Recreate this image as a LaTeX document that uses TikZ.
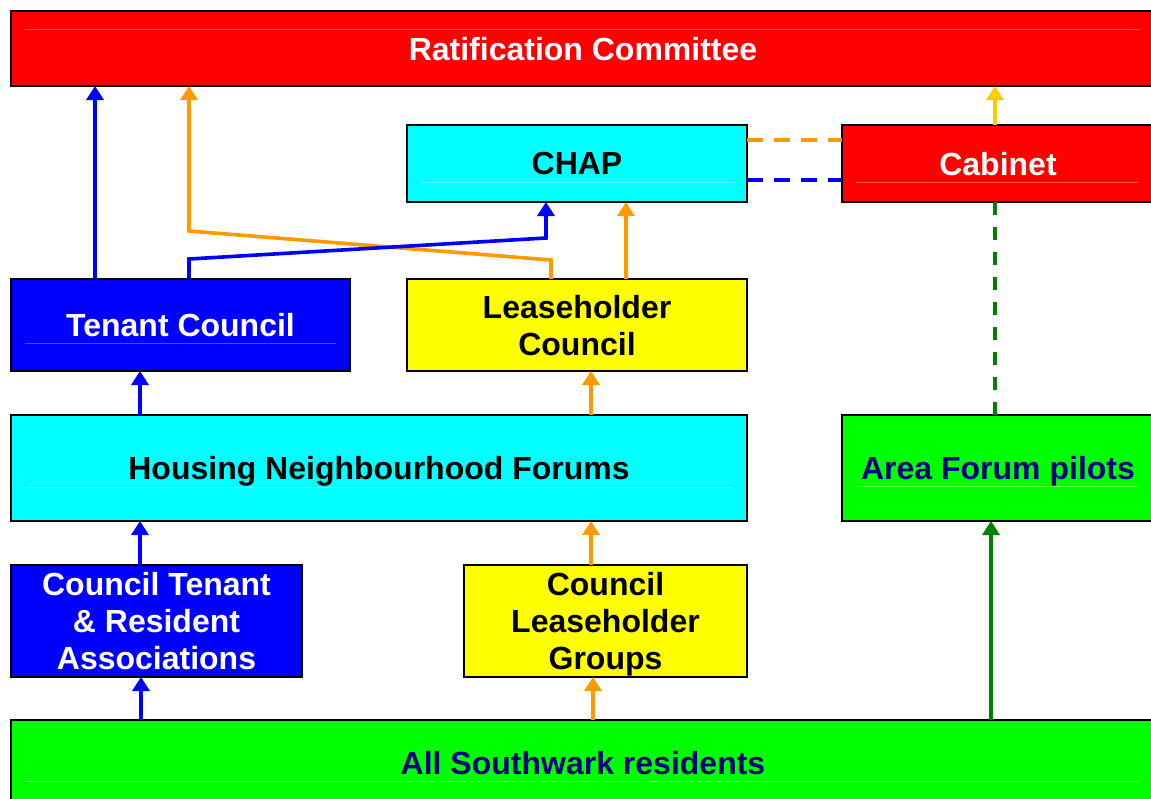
\documentclass[tikz,border=0pt]{standalone}
\usepackage{fontspec}
\setmainfont{Liberation Sans}
\usetikzlibrary{arrows.meta,calc}
\definecolor{cOrange}{HTML}{FF9900}
\definecolor{cGold}{HTML}{FFCC00}
\definecolor{cDkGreen}{HTML}{008000}
\definecolor{cNavy}{HTML}{000080}
\definecolor{cBlue}{HTML}{0000FF}
\definecolor{cRed}{HTML}{FF0000}
\definecolor{cCyan}{HTML}{00FFFF}
\definecolor{cYellow}{HTML}{FFFF00}
\definecolor{cGreen}{HTML}{00FF00}

\begin{document}
\begin{tikzpicture}[x=1pt,y=-1pt,
  box/.style={draw=black, line width=2pt, inner sep=0pt, outer sep=0pt,
    align=center, text depth=0pt, font=\bfseries\fontsize{32}{37}\selectfont},
  conn/.style={line width=3.6pt, -{Triangle[length=14pt,width=17pt]}},
  link/.style={line width=3.6pt, dash pattern=on 16pt off 11pt},
  sheen/.style={line width=0.8pt, white, opacity=0.3}]

\useasboundingbox (0,0) rectangle (1151,798);
\clip (0,0) rectangle (1151,798);

% boxes
\node[box, fill=cRed, text=white, minimum width=1144, minimum height=75] (rc) at (583,48.5) {Ratification Committee};
\node[box, fill=cCyan, text=black, minimum width=340, minimum height=77] (chap) at (577,163.5) {CHAP};
\node[box, fill=cRed, text=white, minimum width=312, minimum height=77] (cab) at (998,163.5) {Cabinet};
\node[box, fill=cBlue, text=white, minimum width=339, minimum height=92] (tc) at (180.5,325) {Tenant Council};
\node[box, fill=cYellow, text=black, minimum width=340, minimum height=92] (lc) at (577,325) {Leaseholder\\Council};
\node[box, fill=cCyan, text=black, minimum width=736, minimum height=106] (hnf) at (379,468) {Housing Neighbourhood Forums};
\node[box, fill=cGreen, text=cNavy, minimum width=312, minimum height=106] (afp) at (998,468) {Area Forum pilots};
\node[box, fill=cBlue, text=white, minimum width=291, minimum height=112] (ctra) at (156.5,621) {Council Tenant\\\& Resident\\Associations};
\node[box, fill=cYellow, text=black, minimum width=283, minimum height=112] (clg) at (605.5,621) {Council\\Leaseholder\\Groups};
\node[box, fill=cGreen, text=cNavy, minimum width=1144, minimum height=86] (asr) at (583,763) {All Southwark residents};

% faint highlight lines inside the boxes
\draw[sheen] ($(rc.north west)+(14,18)$) -- ($(rc.north east)+(-15,18)$);
\draw[sheen] ($(chap.south west)+(14,-20)$) -- ($(chap.south east)+(-14,-20)$);
\draw[sheen] ($(cab.south west)+(14,-20)$) -- ($(cab.south east)+(-15,-20)$);
\draw[sheen] ($(tc.south west)+(14,-28)$) -- ($(tc.south east)+(-14,-28)$);
\draw[sheen] ($(hnf.south west)+(14,-34)$) -- ($(hnf.south east)+(-14,-34)$);
\draw[sheen] ($(afp.south west)+(14,-35)$) -- ($(afp.south east)+(-15,-35)$);
\draw[sheen] ($(asr.south west)+(14,-25)$) -- ($(asr.south east)+(-15,-25)$);

% connectors up to the Ratification Committee
\draw[conn, cBlue] ($(tc.north west)+(84,0)$) coordinate (a1) -- (a1 |- rc.south);
\draw[conn, cOrange] ($(lc.north west)+(144,0)$) -- ++(0,-19)
  -- ($(rc.south west)+(178,145)$) -- ($(rc.south west)+(178,0)$);
\draw[conn, cGold] ($(cab.north west)+(153,0)$) coordinate (a2) -- (a2 |- rc.south);

% connectors up to CHAP
\draw[conn, cBlue] ($(tc.north west)+(178,0)$) -- ++(0,-20)
  -- ($(chap.south west)+(139,36)$) -- ($(chap.south west)+(139,0)$);
\draw[conn, cOrange] ($(lc.north west)+(219,0)$) coordinate (a3) -- (a3 |- chap.south);

% CHAP -- Cabinet links
\draw[link, cOrange] ($(chap.north east)+(0,15)$) -- ($(cab.north west)+(0,15)$);
\draw[link, cBlue] ($(chap.north east)+(0,55)$) -- ($(cab.north west)+(0,55)$);
\draw[line width=3.6pt, cDkGreen, dash pattern=on 13pt off 12pt]
  ($(afp.north west)+(153,0)$) coordinate (a4) -- (a4 |- cab.south);

% forums up to the councils
\draw[conn, cBlue] ($(hnf.north west)+(129,0)$) coordinate (a5) -- (a5 |- tc.south);
\draw[conn, cOrange] ($(hnf.north west)+(580,0)$) coordinate (a6) -- (a6 |- lc.south);

% associations and groups up to the forums
\draw[conn, cBlue] ($(ctra.north west)+(129,0)$) coordinate (a7) -- (a7 |- hnf.south);
\draw[conn, cOrange] ($(clg.north west)+(127,0)$) coordinate (a8) -- (a8 |- hnf.south);

% residents up
\draw[conn, cBlue] ($(asr.north west)+(130,0)$) coordinate (a9) -- (a9 |- ctra.south);
\draw[conn, cOrange] ($(asr.north west)+(582,0)$) coordinate (a10) -- (a10 |- clg.south);
\draw[conn, cDkGreen] ($(asr.north west)+(980,0)$) coordinate (a11) -- (a11 |- afp.south);

\end{tikzpicture}
\end{document}
